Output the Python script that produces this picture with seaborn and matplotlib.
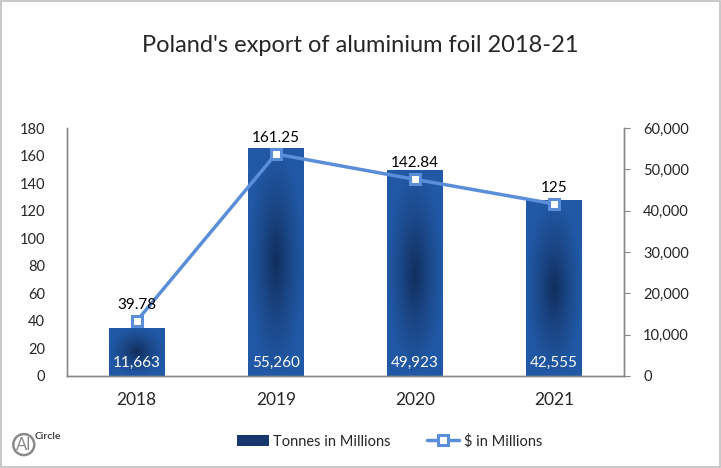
import numpy as np
import matplotlib
matplotlib.use("Agg")
import matplotlib.pyplot as plt
from matplotlib.lines import Line2D
from matplotlib.patches import Patch, Rectangle
from matplotlib.colors import LinearSegmentedColormap
from matplotlib.ticker import FuncFormatter
import seaborn as sns

years = ["2018", "2019", "2020", "2021"]
tonnes = [11663, 55260, 49923, 42555]
dollars = [39.78, 161.25, 142.84, 125]
tonnes_labels = ["11,663", "55,260", "49,923", "42,555"]
dollar_labels = ["39.78", "161.25", "142.84", "125"]

bar_edge = "#2159A6"
bar_mid = "#112F5E"
line_blue = "#5B8ED8"
grey = "#888888"

sns.set_style("white")
plt.rcParams["font.family"] = ["Lato", "DejaVu Sans"]

fig = plt.figure(figsize=(7.21, 4.68), dpi=100)
ax = fig.add_axes([0.093, 0.197, 0.772, 0.529])
ax2 = ax.twinx()

# bars -> tonnes, on the right-hand axis
sns.barplot(x=years, y=tonnes, ax=ax, color=bar_edge, width=0.4, saturation=1)

# radial shading inside each bar
cmap = LinearSegmentedColormap.from_list("barshade", [bar_mid, "#1B4787", bar_edge])
yy, xx = np.mgrid[-1:1:200j, -1:1:200j]
rr = np.clip(np.sqrt(xx ** 2 + yy ** 2), 0, 1)
for patch in ax.patches:
    x0, y0 = patch.get_x(), patch.get_y()
    w, h = patch.get_width(), patch.get_height()
    im = ax.imshow(rr, cmap=cmap, extent=[x0, x0 + w, y0, y0 + h],
                   aspect="auto", origin="lower", zorder=patch.get_zorder() + 0.1)
    im.set_clip_path(patch)

for i, lab in enumerate(tonnes_labels):
    ax.annotate(lab, xy=(i, 0), xytext=(0, 6), textcoords="offset pixels",
                ha="center", va="bottom", color="white", fontsize=11, zorder=5)

# line -> dollars, on the left-hand axis
sns.pointplot(x=years, y=dollars, ax=ax2, color=line_blue, markers="s",
              errorbar=None, linewidth=2.5, markersize=7,
              markerfacecolor="white", markeredgecolor=line_blue, markeredgewidth=2.2)

for i, (v, lab) in enumerate(zip(dollars, dollar_labels)):
    ax2.annotate(lab, xy=(i, v), xytext=(0, 9), textcoords="offset pixels",
                 ha="center", va="bottom", color="black", fontsize=11)

ax.set_xlim(-0.5, 3.5)
ax.set_ylim(0, 60000)
ax.set_yticks(range(0, 60001, 10000))
ax.yaxis.set_major_formatter(FuncFormatter(lambda v, p: f"{int(v):,}"))
ax.yaxis.tick_right()
ax.yaxis.set_label_position("right")
ax.tick_params(axis="y", which="both", right=True, left=False, labelright=True,
               labelleft=False, direction="out", length=4, color=grey,
               labelsize=10.5, pad=10)
ax.tick_params(axis="x", length=0, labelsize=12.5, pad=12)
ax.set_xlabel("")
ax.set_ylabel("")

ax2.set_xlim(-0.5, 3.5)
ax2.set_ylim(0, 180)
ax2.set_yticks(range(0, 181, 20))
ax2.yaxis.tick_left()
ax2.tick_params(axis="y", left=False, right=False, labelleft=True, labelright=False,
                length=0, labelsize=10.5, pad=16)
ax2.set_ylabel("")
ax2.set_xlabel("")

for a in (ax, ax2):
    a.spines["top"].set_visible(False)
    for side in ("left", "right", "bottom"):
        a.spines[side].set_color(grey)
        a.spines[side].set_linewidth(1)

fig.suptitle("Poland's export of aluminium foil 2018-21", y=0.925, fontsize=17)

handles = [Patch(facecolor="#16386E", edgecolor="none"),
           Line2D([0], [0], color=line_blue, lw=2.5, marker="s", markersize=7,
                  markerfacecolor="white", markeredgecolor=line_blue, markeredgewidth=2.2)]
fig.legend(handles, ["Tonnes in Millions", "$ in Millions"], loc="center",
           bbox_to_anchor=(0.54, 0.057), ncol=2, frameon=False, fontsize=10.5,
           handlelength=2.2, columnspacing=2.5, handletextpad=0.3)

# logo
fig.text(0.033, 0.05, "Al", fontsize=12, color="#8a8a8a", ha="center", va="center",
         bbox=dict(boxstyle="circle,pad=0.15", fc="white", ec="#8a8a8a", lw=1.8))
fig.text(0.067, 0.068, "Circle", fontsize=7.5, color="#444444", fontweight="bold",
         ha="center", va="center")

fig.patches.append(Rectangle((0.001, 0.002), 0.997, 0.996, transform=fig.transFigure,
                             fill=False, edgecolor="#BFBFBF", lw=1.2))

fig.savefig("out.png", dpi=100)
